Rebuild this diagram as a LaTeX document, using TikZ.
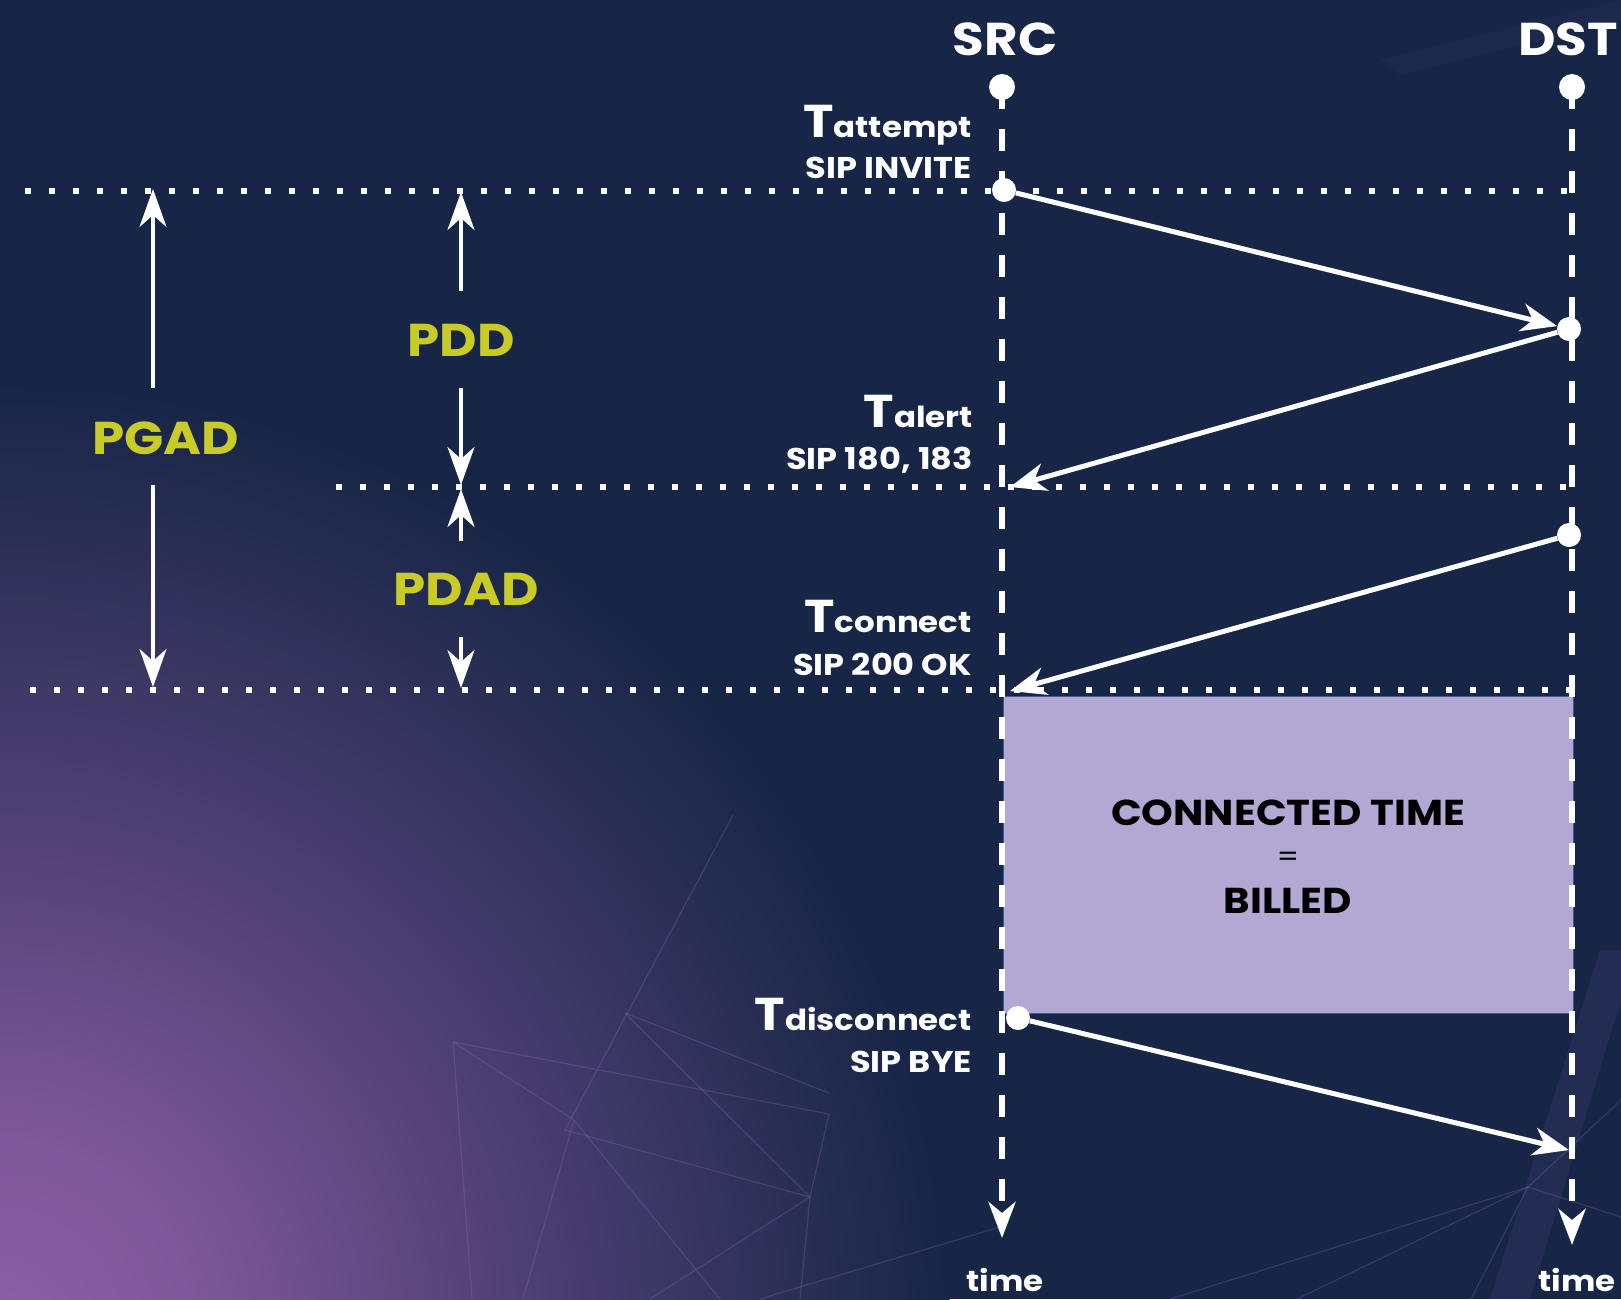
\documentclass[tikz,border=0pt]{standalone}
\usepackage{fontspec}
\setmainfont{Poppins}[FakeStretch=1.12]
\usetikzlibrary{arrows.meta}
\definecolor{bgnavy}{RGB}{23,37,70}
\definecolor{glow}{RGB}{140,95,165}
\definecolor{lime}{RGB}{201,203,38}
\definecolor{boxfill}{RGB}{179,167,212}
\definecolor{boxline}{RGB}{60,90,150}
\definecolor{netline}{RGB}{150,120,200}
\pgfdeclareradialshading{glowshade}{\pgfpoint{0bp}{0bp}}{color(0bp)=(glow); color(5bp)=(glow!88!bgnavy); color(13bp)=(glow!50!bgnavy); color(25bp)=(bgnavy); color(50bp)=(bgnavy)}
\begin{document}
\begin{tikzpicture}[x=1pt,y=-1pt,
  msg/.style={white, line width=5pt, -{Stealth[length=36pt,width=28pt,inset=11pt]}},
  timeline/.style={white, line width=6pt, dash pattern=on 22pt off 20pt, -{Stealth[length=36pt,width=27pt,inset=11pt]}},
  dotline/.style={white, line width=5.5pt, dash pattern=on 5.5pt off 18.5pt},
  dim/.style={white, line width=4.3pt, -{Stealth[length=38pt,width=27pt,inset=12pt]}},
  dot/.style={circle, fill=white, minimum size=24pt, inner sep=0pt},
  net/.style={netline, line width=1.2pt, opacity=0.25},
  head/.style={white, inner sep=0pt, font=\fontsize{46}{50}\selectfont\bfseries},
  evt/.style={white, inner sep=0pt, anchor=base east, font=\bfseries},
  sip/.style={white, inner sep=0pt, anchor=base east, font=\fontsize{30}{34}\selectfont\bfseries},
  delay/.style={lime, inner sep=0pt, anchor=base, font=\fontsize{46}{50}\selectfont\bfseries},
  boxtxt/.style={black, inner sep=0pt, anchor=base, font=\fontsize{36}{40}\selectfont\bfseries},
  timetxt/.style={white, inner sep=0pt, anchor=base, font=\fontsize{29}{32}\selectfont\bfseries}
]
\newcommand{\evtxt}[1]{{\fontsize{46}{50}\selectfont T}{\fontsize{29}{32}\selectfont #1}}
% background
\useasboundingbox (0,0) rectangle (1621,1299);
\fill[bgnavy] (0,0) rectangle (1621,1299);
\begin{scope}
\clip (0,0) rectangle (1621,1299);
\shade[shading=glowshade] (0,1330) circle (950);
% faint network lines
\draw[net] (453,1042) -- (829,1114) -- (810,1197) -- (565,1130) -- (733,815);
\draw[net] (453,1042) -- (472,1299);
\draw[net] (453,1042) -- (574,1120);
\draw[net] (625,1013) -- (829,1093);
\draw[net] (625,1013) -- (810,1197) -- (650,1299);
\draw[net] (574,1120) -- (720,1299);
\draw[net] (574,1120) -- (523,1299);
\draw[net] (810,1197) -- (800,1299);
\draw[net] (1000,1227) -- (760,1299);
\draw[net] (1528,1187) -- (1170,1299);
\draw[net] (1528,1187) -- (1297,1299);
\draw[net] (1528,1187) -- (1621,1217);
\draw[net] (1528,1187) -- (1621,1100);
\draw[net] (1528,1187) -- (1471,1299);
\fill[netline, opacity=0.1] (1490,1299) -- (1600,950) -- (1621,950) -- (1621,1000) -- (1530,1299) -- cycle;
\fill[netline, opacity=0.05] (1380,60) -- (1621,0) -- (1621,20) -- (1400,75) -- cycle;
\end{scope}
% connected box
\node[draw=boxline, line width=1.2pt, fill=boxfill, minimum width=570pt, minimum height=317pt, inner sep=0pt, anchor=north west] (box) at (1003,696) {};
\node[boxtxt] (ct) at (1288,825) {CONNECTED TIME};
\node[black, inner sep=0pt, anchor=base, font=\fontsize{28}{32}\selectfont] (eq) at (1288,866) {=};
\node[boxtxt] (bl) at (1288,913) {BILLED};
% dotted level lines
\coordinate (l1a) at (25,191);  \coordinate (l1b) at (1572,191);
\coordinate (l2a) at (336,487); \coordinate (l2b) at (1572,487);
\coordinate (l3a) at (30,690);  \coordinate (l3b) at (1572,690);
\draw[dotline] (l1a) -- (l1b);
\draw[dotline] (l2a) -- (l2b);
\draw[dotline] (l3a) -- (l3b);
% time lines
\node[dot, minimum size=26pt] (srctop) at (1002,87) {};
\node[dot, minimum size=26pt] (dsttop) at (1572,87) {};
\coordinate (srcend) at (1002,1238);
\coordinate (dstend) at (1572,1245);
\draw[timeline] (srctop.center) -- (srcend);
\draw[timeline] (dsttop.center) -- (dstend);
% headers
\node[head, anchor=base] (src) at (1005,55) {SRC};
\node[head, anchor=base] (dst) at (1568,55) {DST};
\node[timetxt] (t1) at (1005,1291) {time};
\node[timetxt] (t2) at (1577,1291) {time};
% event dots
\node[dot] (att) at (1004,190) {};
\node[dot] (d1) at (1569,329) {};
\node[dot] (d2) at (1569,535) {};
\node[dot] (dis) at (1018,1018) {};
\coordinate (alerttip) at (1010,487);
\coordinate (conntip) at (1010,691);
\coordinate (byetip) at (1569,1150);
\draw[msg] (att) -- (d1);
\draw[msg] (d1) -- (alerttip);
\draw[msg] (d2) -- (conntip);
\draw[msg] (dis) -- (byetip);
% event labels
\node[evt] (ta) at (972,137) {\evtxt{attempt}};
\node[sip] (sa) at (972,178) {SIP INVITE};
\node[evt] (tl) at (973,427) {\evtxt{alert}};
\node[sip] (sl) at (973,469) {SIP 180, 183};
\node[evt] (tc) at (972,632) {\evtxt{connect}};
\node[sip] (sc) at (972,675) {SIP 200 OK};
\node[evt] (td) at (972,1030) {\evtxt{disconnect}};
\node[sip] (sd) at (972,1072) {SIP BYE};
% delay labels and dimension arrows
\node[delay] (pgad) at (166,454) {PGAD};
\node[delay] (pdd) at (461,356) {PDD};
\node[delay] (pdad) at (466,605) {PDAD};
\coordinate (pgadu) at (153,388); \coordinate (pgadut) at (153,189);
\coordinate (pgadd) at (153,485); \coordinate (pgaddt) at (153,687);
\coordinate (pddu) at (461,291);  \coordinate (pddut) at (461,192);
\coordinate (pddd) at (461,388);  \coordinate (pdddt) at (461,485);
\coordinate (pdadu) at (461,541); \coordinate (pdadut) at (461,489);
\coordinate (pdadd) at (461,637); \coordinate (pdaddt) at (461,688);
\draw[dim] (pgadu) -- (pgadut);
\draw[dim] (pgadd) -- (pgaddt);
\draw[dim] (pddu) -- (pddut);
\draw[dim] (pddd) -- (pdddt);
\draw[dim] (pdadu) -- (pdadut);
\draw[dim] (pdadd) -- (pdaddt);
\end{tikzpicture}
\end{document}
